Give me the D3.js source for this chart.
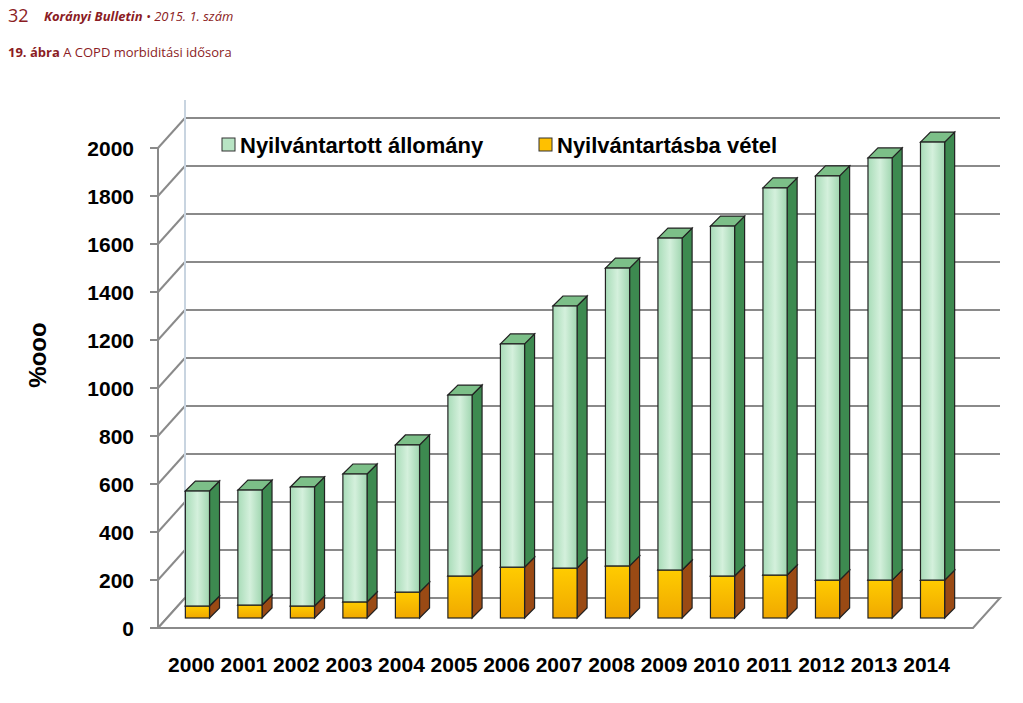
<!DOCTYPE html>
<html><head><meta charset="utf-8">
<script src="https://cdn.jsdelivr.net/npm/d3@7"></script>
<style>body{margin:0;background:#fff}</style>
</head><body>
<svg id="c" width="1023" height="703"></svg>
<script>
const years = ["2000","2001","2002","2003","2004","2005","2006","2007","2008","2009","2010","2011","2012","2013","2014"];
const registered = [529,533,546,600,721,929,1142,1300,1458,1583,1633,1792,1842,1917,1983];
const newCases = [50,54,50,67,108,175,212,208,217,200,175,179,158,158,158];
const yTicks = [0,200,400,600,800,1000,1200,1400,1600,1800,2000];

const svg = d3.select("#c");
const F = "'Liberation Sans Narrow','Arial Narrow','Liberation Sans',sans-serif";
const red = "#8b1c24";
svg.append("text").attr("x",8).attr("y",22).attr("fill",red).attr("font-family","Open Sans").attr("font-size",18).text("32");
svg.append("text").attr("x",44).attr("y",21).attr("fill",red).attr("font-family","Open Sans").attr("font-size",13).attr("font-style","italic")
  .html("<tspan font-weight='bold'>Korányi Bulletin</tspan> • 2015. 1. szám");
svg.append("text").attr("x",8).attr("y",57).attr("fill",red).attr("font-family","Open Sans").attr("font-size",13)
  .html("<tspan font-weight='bold'>19. ábra</tspan>   A COPD morbiditási idősora");

const y = d3.scaleLinear().domain([0,2000]).range([628,148]);
const dx = 27, dy = 30;
const g = svg.append("g");
yTicks.forEach(v=>{
  const yy=y(v);
  g.append("line").attr("x1",158).attr("y1",yy).attr("x2",158+dx).attr("y2",yy-dy).attr("stroke","#8a8a8a").attr("stroke-width",2);
  if(v>0) g.append("line").attr("x1",158+dx).attr("y1",yy-dy).attr("x2",1000).attr("y2",yy-dy).attr("stroke","#8a8a8a").attr("stroke-width",2);
  g.append("line").attr("x1",150).attr("y1",yy).attr("x2",158).attr("y2",yy).attr("stroke","#8a8a8a").attr("stroke-width",2);
});
g.append("line").attr("x1",158+dx).attr("y1",y(2000)-dy-18).attr("x2",158+dx).attr("y2",y(0)-dy).attr("stroke","#c8d4e0").attr("stroke-width",2);
g.append("line").attr("x1",158).attr("y1",y(0)).attr("x2",158).attr("y2",y(2000)).attr("stroke","#8a8a8a").attr("stroke-width",2);
g.append("path").attr("d",`M158,628L973,628L1000,598L185,598Z`).attr("fill","#fff").attr("stroke","#8a8a8a").attr("stroke-width",2);

svg.append("g").selectAll("text").data(yTicks).join("text")
  .attr("x",134).attr("y",d=>y(d)+8).attr("text-anchor","end")
  .attr("font-family",F).attr("font-weight","bold").attr("font-size",21).text(d=>d);
svg.append("text").attr("transform","translate(46,355) rotate(-90)").attr("text-anchor","middle")
  .attr("font-family",F).attr("font-weight","bold").attr("font-size",24).text("%ooo");

const x = d3.scaleBand().domain(years).range([157,973]).padding(0.54);
const yb = d3.scaleLinear().domain([0,2000]).range([618,138]);
const bw = x.bandwidth(), ox=10, oy=10;
function bar3d(x0,v0,v1,front,side,top){
  const yt=yb(v1), ybt=yb(v0);
  const gg=svg.append("g").attr("stroke","#222").attr("stroke-width",1.2);
  gg.append("path").attr("d",`M${x0+bw},${ybt}L${x0+bw+ox},${ybt-oy}L${x0+bw+ox},${yt-oy}L${x0+bw},${yt}Z`).attr("fill",side);
  gg.append("path").attr("d",`M${x0},${yt}L${x0+ox},${yt-oy}L${x0+bw+ox},${yt-oy}L${x0+bw},${yt}Z`).attr("fill",top);
  gg.append("rect").attr("x",x0).attr("y",yt).attr("width",bw).attr("height",ybt-yt).attr("fill",front);
}
const defs=svg.append("defs");
const gr=defs.append("linearGradient").attr("id","gf");
gr.append("stop").attr("offset","0").attr("stop-color","#a8dcb8");
gr.append("stop").attr("offset","0.5").attr("stop-color","#d4f0dc");
gr.append("stop").attr("offset","1").attr("stop-color","#a0d6b0");
const go=defs.append("linearGradient").attr("id","of").attr("x1",0).attr("y1",0).attr("x2",0).attr("y2",1);
go.append("stop").attr("offset","0").attr("stop-color","#ffcc00");
go.append("stop").attr("offset","1").attr("stop-color","#f0a800");
years.forEach((yr,i)=>{
  bar3d(x(yr),0,newCases[i],"url(#of)","#9a4a14","#e09020");
  bar3d(x(yr),newCases[i],registered[i],"url(#gf)","#3d8a50","#7cbf88");
});
svg.append("g").selectAll("text").data(years).join("text")
  .attr("x",d=>x(d)+bw/2-6).attr("y",672).attr("text-anchor","middle")
  .attr("font-family",F).attr("font-weight","bold").attr("font-size",21).text(d=>d);

svg.append("rect").attr("x",222).attr("y",138).attr("width",13).attr("height",13).attr("fill","#b8e4c4").attr("stroke","#333");
svg.append("text").attr("x",240).attr("y",153).attr("font-family",F).attr("font-weight","bold").attr("font-size",22).text("Nyilvántartott állomány");
svg.append("rect").attr("x",539).attr("y",138).attr("width",13).attr("height",13).attr("fill","#ffc000").attr("stroke","#333");
svg.append("text").attr("x",557).attr("y",153).attr("font-family",F).attr("font-weight","bold").attr("font-size",22).text("Nyilvántartásba vétel");
</script>
</body></html>
